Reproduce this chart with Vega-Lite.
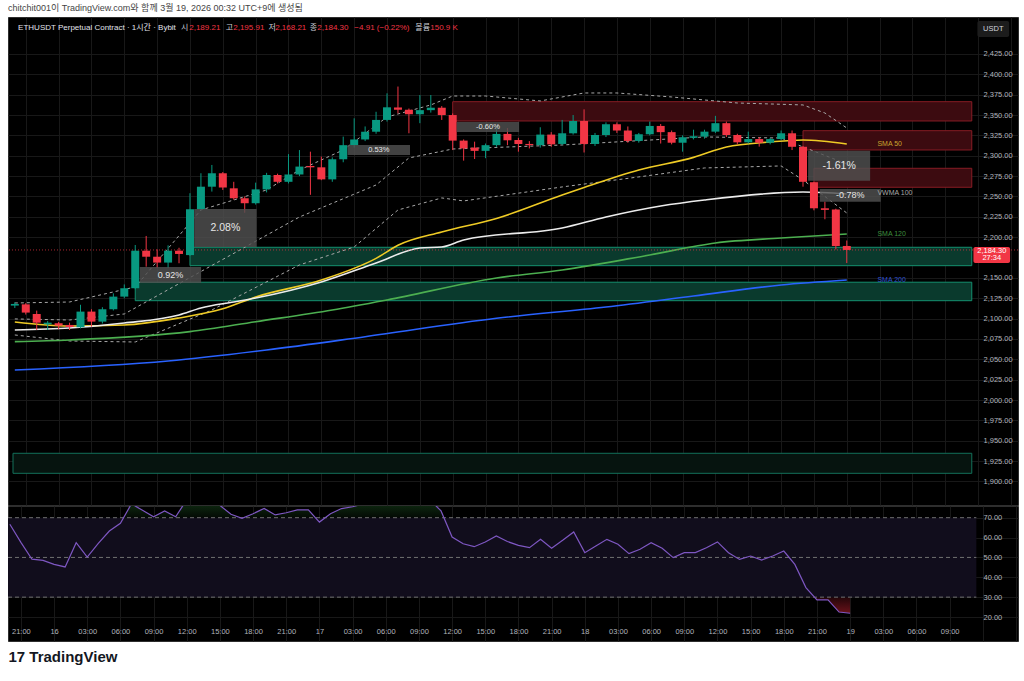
{
  "$schema": "https://vega.github.io/schema/vega-lite/v6.json",
  "background": "#ffffff",
  "padding": {"left": 7, "right": 7, "top": 3, "bottom": 8},
  "title": {"text": "chitchit001이 TradingView.com와 함께 3월 19, 2026 00:32 UTC+9에 생성됨", "anchor": "start", "frame": "group", "fontSize": 9, "fontWeight": "normal", "color": "#444444", "offset": 4},
  "config": {
    "font": "'Liberation Sans', 'Noto Sans CJK KR', sans-serif",
    "view": {"fill": "#000000", "stroke": "#2e2e2e", "strokeWidth": 1}
  },
  "spacing": -1,
  "datasets": {
    "bars": [
      {"t": "2026-03-15T20:00", "o": 2116, "hi": 2120, "lo": 2113, "c": 2118, "rsi": 66.7},
      {"t": "2026-03-15T21:00", "o": 2117.5, "hi": 2119, "lo": 2105, "c": 2107.4, "rsi": 57.6},
      {"t": "2026-03-15T22:00", "o": 2105.7, "hi": 2109.8, "lo": 2086, "c": 2095, "rsi": 49.1},
      {"t": "2026-03-15T23:00", "o": 2093, "hi": 2097, "lo": 2086, "c": 2095, "rsi": 48.5},
      {"t": "2026-03-16T00:00", "o": 2094.3, "hi": 2096, "lo": 2087, "c": 2091.4, "rsi": 46.5},
      {"t": "2026-03-16T01:00", "o": 2092.2, "hi": 2095, "lo": 2086, "c": 2089.7, "rsi": 45.2},
      {"t": "2026-03-16T02:00", "o": 2089.4, "hi": 2117, "lo": 2088, "c": 2108.6, "rsi": 57.4},
      {"t": "2026-03-16T03:00", "o": 2108.6, "hi": 2111.5, "lo": 2090, "c": 2096.3, "rsi": 50.2},
      {"t": "2026-03-16T04:00", "o": 2096.3, "hi": 2114, "lo": 2094, "c": 2111.5, "rsi": 57.1},
      {"t": "2026-03-16T05:00", "o": 2111.5, "hi": 2131, "lo": 2110, "c": 2127, "rsi": 63.3},
      {"t": "2026-03-16T06:00", "o": 2127, "hi": 2142, "lo": 2125, "c": 2137.3, "rsi": 67.2},
      {"t": "2026-03-16T07:00", "o": 2137.3, "hi": 2190.4, "lo": 2136, "c": 2183.4, "rsi": 77},
      {"t": "2026-03-16T08:00", "o": 2183.4, "hi": 2201.5, "lo": 2163.8, "c": 2176, "rsi": 73.7},
      {"t": "2026-03-16T09:00", "o": 2176, "hi": 2185, "lo": 2162, "c": 2168.8, "rsi": 70.5},
      {"t": "2026-03-16T10:00", "o": 2168.8, "hi": 2190, "lo": 2162, "c": 2183.4, "rsi": 73.4},
      {"t": "2026-03-16T11:00", "o": 2183.4, "hi": 2187, "lo": 2168, "c": 2179.4, "rsi": 70.5},
      {"t": "2026-03-16T12:00", "o": 2178, "hi": 2254, "lo": 2177, "c": 2234.3, "rsi": 79},
      {"t": "2026-03-16T13:00", "o": 2234.3, "hi": 2278.5, "lo": 2233, "c": 2262, "rsi": 82},
      {"t": "2026-03-16T14:00", "o": 2262, "hi": 2288.7, "lo": 2256, "c": 2278.5, "rsi": 80},
      {"t": "2026-03-16T15:00", "o": 2278.5, "hi": 2280, "lo": 2258, "c": 2261, "rsi": 76.2},
      {"t": "2026-03-16T16:00", "o": 2260, "hi": 2268, "lo": 2246, "c": 2247.8, "rsi": 71.7},
      {"t": "2026-03-16T17:00", "o": 2247.8, "hi": 2250, "lo": 2230, "c": 2241.7, "rsi": 69.7},
      {"t": "2026-03-16T18:00", "o": 2241.7, "hi": 2267, "lo": 2240, "c": 2258.7, "rsi": 72},
      {"t": "2026-03-16T19:00", "o": 2258.7, "hi": 2279, "lo": 2255, "c": 2276.4, "rsi": 74.7},
      {"t": "2026-03-16T20:00", "o": 2276.4, "hi": 2278, "lo": 2266, "c": 2268, "rsi": 71.4},
      {"t": "2026-03-16T21:00", "o": 2268, "hi": 2302, "lo": 2266, "c": 2277, "rsi": 72.5},
      {"t": "2026-03-16T22:00", "o": 2277, "hi": 2307, "lo": 2275, "c": 2286.7, "rsi": 73.9},
      {"t": "2026-03-16T23:00", "o": 2287.4, "hi": 2305, "lo": 2252, "c": 2285.8, "rsi": 73.9},
      {"t": "2026-03-17T00:00", "o": 2285.8, "hi": 2299, "lo": 2270, "c": 2271, "rsi": 67.8},
      {"t": "2026-03-17T01:00", "o": 2271, "hi": 2298, "lo": 2268, "c": 2295.7, "rsi": 72},
      {"t": "2026-03-17T02:00", "o": 2295.7, "hi": 2323.5, "lo": 2292, "c": 2313, "rsi": 74.6},
      {"t": "2026-03-17T03:00", "o": 2313, "hi": 2346, "lo": 2310, "c": 2320, "rsi": 75.5},
      {"t": "2026-03-17T04:00", "o": 2320, "hi": 2336, "lo": 2318, "c": 2329.5, "rsi": 77},
      {"t": "2026-03-17T05:00", "o": 2329.5, "hi": 2354, "lo": 2327, "c": 2344, "rsi": 80},
      {"t": "2026-03-17T06:00", "o": 2344, "hi": 2376.7, "lo": 2342, "c": 2359.5, "rsi": 83},
      {"t": "2026-03-17T07:00", "o": 2359.3, "hi": 2385, "lo": 2352, "c": 2356.5, "rsi": 81},
      {"t": "2026-03-17T08:00", "o": 2356.5, "hi": 2358, "lo": 2327.6, "c": 2351, "rsi": 78},
      {"t": "2026-03-17T09:00", "o": 2351, "hi": 2374.6, "lo": 2340, "c": 2356, "rsi": 79},
      {"t": "2026-03-17T10:00", "o": 2356, "hi": 2374.6, "lo": 2353, "c": 2359, "rsi": 79},
      {"t": "2026-03-17T11:00", "o": 2359, "hi": 2361, "lo": 2344, "c": 2350, "rsi": 73.4},
      {"t": "2026-03-17T12:00", "o": 2350, "hi": 2352, "lo": 2307, "c": 2318.6, "rsi": 60.3},
      {"t": "2026-03-17T13:00", "o": 2318.6, "hi": 2320, "lo": 2294, "c": 2309, "rsi": 56.9},
      {"t": "2026-03-17T14:00", "o": 2310, "hi": 2317.3, "lo": 2296, "c": 2306, "rsi": 55.4},
      {"t": "2026-03-17T15:00", "o": 2306, "hi": 2315, "lo": 2297, "c": 2313, "rsi": 57.8},
      {"t": "2026-03-17T16:00", "o": 2313, "hi": 2334, "lo": 2311, "c": 2326.8, "rsi": 60.8},
      {"t": "2026-03-17T17:00", "o": 2326.8, "hi": 2334, "lo": 2313, "c": 2319, "rsi": 58},
      {"t": "2026-03-17T18:00", "o": 2319.4, "hi": 2322, "lo": 2305, "c": 2314.5, "rsi": 56.1},
      {"t": "2026-03-17T19:00", "o": 2314.5, "hi": 2318, "lo": 2309, "c": 2313, "rsi": 54.9},
      {"t": "2026-03-17T20:00", "o": 2313, "hi": 2335, "lo": 2310, "c": 2326, "rsi": 59.1},
      {"t": "2026-03-17T21:00", "o": 2326, "hi": 2329, "lo": 2311, "c": 2314, "rsi": 54.6},
      {"t": "2026-03-17T22:00", "o": 2314.5, "hi": 2344, "lo": 2313, "c": 2327.6, "rsi": 58.6},
      {"t": "2026-03-17T23:00", "o": 2327.6, "hi": 2350, "lo": 2326, "c": 2342.7, "rsi": 62.8},
      {"t": "2026-03-18T00:00", "o": 2342.7, "hi": 2357, "lo": 2304, "c": 2314.5, "rsi": 52.4},
      {"t": "2026-03-18T01:00", "o": 2314.5, "hi": 2328, "lo": 2312, "c": 2325.5, "rsi": 55.7},
      {"t": "2026-03-18T02:00", "o": 2325.5, "hi": 2341, "lo": 2323, "c": 2338.7, "rsi": 59.1},
      {"t": "2026-03-18T03:00", "o": 2338.7, "hi": 2341, "lo": 2328, "c": 2331, "rsi": 56.6},
      {"t": "2026-03-18T04:00", "o": 2331, "hi": 2336, "lo": 2316, "c": 2318.2, "rsi": 51.9},
      {"t": "2026-03-18T05:00", "o": 2318.2, "hi": 2328, "lo": 2316, "c": 2326.4, "rsi": 54.1},
      {"t": "2026-03-18T06:00", "o": 2326.4, "hi": 2342, "lo": 2325, "c": 2336.6, "rsi": 57.4},
      {"t": "2026-03-18T07:00", "o": 2336.6, "hi": 2339, "lo": 2315, "c": 2329, "rsi": 54.6},
      {"t": "2026-03-18T08:00", "o": 2329, "hi": 2331, "lo": 2314, "c": 2316, "rsi": 49.9},
      {"t": "2026-03-18T09:00", "o": 2316, "hi": 2325, "lo": 2305, "c": 2322.7, "rsi": 52.4},
      {"t": "2026-03-18T10:00", "o": 2322, "hi": 2332, "lo": 2320, "c": 2324, "rsi": 52.4},
      {"t": "2026-03-18T11:00", "o": 2323.5, "hi": 2332, "lo": 2321, "c": 2329.6, "rsi": 54.9},
      {"t": "2026-03-18T12:00", "o": 2329.6, "hi": 2349, "lo": 2328, "c": 2340, "rsi": 57.8},
      {"t": "2026-03-18T13:00", "o": 2340, "hi": 2342, "lo": 2323, "c": 2325.5, "rsi": 52.4},
      {"t": "2026-03-18T14:00", "o": 2325.5, "hi": 2327, "lo": 2314, "c": 2316.5, "rsi": 49},
      {"t": "2026-03-18T15:00", "o": 2316.5, "hi": 2329.6, "lo": 2315, "c": 2320.5, "rsi": 50.7},
      {"t": "2026-03-18T16:00", "o": 2320.5, "hi": 2323, "lo": 2311.2, "c": 2316, "rsi": 48.7},
      {"t": "2026-03-18T17:00", "o": 2316, "hi": 2322, "lo": 2314, "c": 2320.5, "rsi": 50.7},
      {"t": "2026-03-18T18:00", "o": 2320.5, "hi": 2331, "lo": 2319, "c": 2327.6, "rsi": 53.2},
      {"t": "2026-03-18T19:00", "o": 2327.6, "hi": 2331, "lo": 2307, "c": 2311, "rsi": 46.5},
      {"t": "2026-03-18T20:00", "o": 2311, "hi": 2312, "lo": 2262, "c": 2268, "rsi": 34.8},
      {"t": "2026-03-18T21:00", "o": 2267.5, "hi": 2268, "lo": 2233, "c": 2235.5, "rsi": 28.6},
      {"t": "2026-03-18T22:00", "o": 2235.5, "hi": 2243.7, "lo": 2222, "c": 2233.5, "rsi": 28.6},
      {"t": "2026-03-18T23:00", "o": 2234, "hi": 2235, "lo": 2185, "c": 2189.2, "rsi": 22.5},
      {"t": "2026-03-19T00:00", "o": 2189.21, "hi": 2195.91, "lo": 2168.21, "c": 2184.3, "rsi": 21.9}
    ],
    "mas": [
      {"t": "2026-03-15T20:00", "ma": "SMA 50", "v": 2095.9},
      {"t": "2026-03-16T01:00", "ma": "SMA 50", "v": 2091},
      {"t": "2026-03-16T06:00", "ma": "SMA 50", "v": 2092.2},
      {"t": "2026-03-16T11:00", "ma": "SMA 50", "v": 2100.8},
      {"t": "2026-03-16T15:00", "ma": "SMA 50", "v": 2112},
      {"t": "2026-03-16T18:00", "ma": "SMA 50", "v": 2126.6},
      {"t": "2026-03-17T00:00", "ma": "SMA 50", "v": 2147.4},
      {"t": "2026-03-17T05:00", "ma": "SMA 50", "v": 2174},
      {"t": "2026-03-17T07:00", "ma": "SMA 50", "v": 2190},
      {"t": "2026-03-17T11:00", "ma": "SMA 50", "v": 2206.4},
      {"t": "2026-03-17T16:00", "ma": "SMA 50", "v": 2223},
      {"t": "2026-03-17T22:00", "ma": "SMA 50", "v": 2251.8},
      {"t": "2026-03-18T00:00", "ma": "SMA 50", "v": 2261},
      {"t": "2026-03-18T05:00", "ma": "SMA 50", "v": 2282.5},
      {"t": "2026-03-18T10:00", "ma": "SMA 50", "v": 2298},
      {"t": "2026-03-18T13:00", "ma": "SMA 50", "v": 2310.8},
      {"t": "2026-03-18T17:00", "ma": "SMA 50", "v": 2316.9},
      {"t": "2026-03-18T20:00", "ma": "SMA 50", "v": 2319.4},
      {"t": "2026-03-19T00:00", "ma": "SMA 50", "v": 2314.5},
      {"t": "2026-03-15T20:00", "ma": "VWMA 100", "v": 2086},
      {"t": "2026-03-16T01:00", "ma": "VWMA 100", "v": 2088.5},
      {"t": "2026-03-16T06:00", "ma": "VWMA 100", "v": 2094.6},
      {"t": "2026-03-16T11:00", "ma": "VWMA 100", "v": 2104.5},
      {"t": "2026-03-16T13:00", "ma": "VWMA 100", "v": 2113.1},
      {"t": "2026-03-16T16:00", "ma": "VWMA 100", "v": 2120.4},
      {"t": "2026-03-16T18:00", "ma": "VWMA 100", "v": 2125.3},
      {"t": "2026-03-17T00:00", "ma": "VWMA 100", "v": 2145},
      {"t": "2026-03-17T05:00", "ma": "VWMA 100", "v": 2168.3},
      {"t": "2026-03-17T09:00", "ma": "VWMA 100", "v": 2186.7},
      {"t": "2026-03-17T11:00", "ma": "VWMA 100", "v": 2188},
      {"t": "2026-03-17T13:00", "ma": "VWMA 100", "v": 2196.6},
      {"t": "2026-03-17T22:00", "ma": "VWMA 100", "v": 2211.3},
      {"t": "2026-03-18T02:00", "ma": "VWMA 100", "v": 2224.8},
      {"t": "2026-03-18T07:00", "ma": "VWMA 100", "v": 2238.3},
      {"t": "2026-03-18T11:00", "ma": "VWMA 100", "v": 2245.7},
      {"t": "2026-03-18T20:00", "ma": "VWMA 100", "v": 2255.5},
      {"t": "2026-03-19T00:00", "ma": "VWMA 100", "v": 2253.1},
      {"t": "2026-03-15T20:00", "ma": "SMA 120", "v": 2071.7},
      {"t": "2026-03-16T01:00", "ma": "SMA 120", "v": 2073.8},
      {"t": "2026-03-16T12:00", "ma": "SMA 120", "v": 2084},
      {"t": "2026-03-16T18:00", "ma": "SMA 120", "v": 2096.2},
      {"t": "2026-03-17T01:00", "ma": "SMA 120", "v": 2110.6},
      {"t": "2026-03-17T06:00", "ma": "SMA 120", "v": 2122.9},
      {"t": "2026-03-17T16:00", "ma": "SMA 120", "v": 2149.9},
      {"t": "2026-03-17T22:00", "ma": "SMA 120", "v": 2159.7},
      {"t": "2026-03-18T06:00", "ma": "SMA 120", "v": 2178.2},
      {"t": "2026-03-18T12:00", "ma": "SMA 120", "v": 2192.9},
      {"t": "2026-03-18T18:00", "ma": "SMA 120", "v": 2199},
      {"t": "2026-03-19T00:00", "ma": "SMA 120", "v": 2203.9},
      {"t": "2026-03-15T20:00", "ma": "SMA 200", "v": 2036.9},
      {"t": "2026-03-16T10:00", "ma": "SMA 200", "v": 2048},
      {"t": "2026-03-16T19:00", "ma": "SMA 200", "v": 2061.5},
      {"t": "2026-03-17T04:00", "ma": "SMA 200", "v": 2077.8},
      {"t": "2026-03-17T16:00", "ma": "SMA 200", "v": 2100.4},
      {"t": "2026-03-18T02:00", "ma": "SMA 200", "v": 2114.3},
      {"t": "2026-03-18T10:00", "ma": "SMA 200", "v": 2127.8},
      {"t": "2026-03-18T18:00", "ma": "SMA 200", "v": 2141.3},
      {"t": "2026-03-19T00:00", "ma": "SMA 200", "v": 2147.4}
    ],
    "bands": [
      {"t": "2026-03-15T20:00", "band": "upper", "v": 2119.2},
      {"t": "2026-03-16T01:00", "band": "upper", "v": 2120.4},
      {"t": "2026-03-16T07:00", "band": "upper", "v": 2138.9},
      {"t": "2026-03-16T13:00", "band": "upper", "v": 2233.4},
      {"t": "2026-03-16T19:00", "band": "upper", "v": 2258},
      {"t": "2026-03-16T22:00", "band": "upper", "v": 2282.5},
      {"t": "2026-03-17T02:00", "band": "upper", "v": 2307.1},
      {"t": "2026-03-17T06:00", "band": "upper", "v": 2347.6},
      {"t": "2026-03-17T10:00", "band": "upper", "v": 2362.4},
      {"t": "2026-03-17T12:00", "band": "upper", "v": 2373.4},
      {"t": "2026-03-17T15:00", "band": "upper", "v": 2373.4},
      {"t": "2026-03-17T20:00", "band": "upper", "v": 2367.3},
      {"t": "2026-03-18T00:00", "band": "upper", "v": 2377.1},
      {"t": "2026-03-18T03:00", "band": "upper", "v": 2377.1},
      {"t": "2026-03-18T08:00", "band": "upper", "v": 2372.2},
      {"t": "2026-03-18T14:00", "band": "upper", "v": 2364.8},
      {"t": "2026-03-18T20:00", "band": "upper", "v": 2362.4},
      {"t": "2026-03-18T22:00", "band": "upper", "v": 2352.5},
      {"t": "2026-03-19T00:00", "band": "upper", "v": 2334.1},
      {"t": "2026-03-15T20:00", "band": "basis", "v": 2099.6},
      {"t": "2026-03-16T01:00", "band": "basis", "v": 2098.3},
      {"t": "2026-03-16T06:00", "band": "basis", "v": 2105.7},
      {"t": "2026-03-16T22:00", "band": "basis", "v": 2224.8},
      {"t": "2026-03-17T05:00", "band": "basis", "v": 2264.1},
      {"t": "2026-03-17T08:00", "band": "basis", "v": 2297.3},
      {"t": "2026-03-17T12:00", "band": "basis", "v": 2308.3},
      {"t": "2026-03-17T22:00", "band": "basis", "v": 2313.2},
      {"t": "2026-03-18T11:00", "band": "basis", "v": 2323.1},
      {"t": "2026-03-18T18:00", "band": "basis", "v": 2321.8},
      {"t": "2026-03-18T20:00", "band": "basis", "v": 2310.8},
      {"t": "2026-03-19T00:00", "band": "basis", "v": 2290},
      {"t": "2026-03-15T20:00", "band": "lower", "v": 2079.9},
      {"t": "2026-03-16T01:00", "band": "lower", "v": 2072.5},
      {"t": "2026-03-16T07:00", "band": "lower", "v": 2071.3},
      {"t": "2026-03-16T14:00", "band": "lower", "v": 2110.6},
      {"t": "2026-03-16T22:00", "band": "lower", "v": 2165.9},
      {"t": "2026-03-17T03:00", "band": "lower", "v": 2188},
      {"t": "2026-03-17T07:00", "band": "lower", "v": 2233.4},
      {"t": "2026-03-17T11:00", "band": "lower", "v": 2248.2},
      {"t": "2026-03-17T13:00", "band": "lower", "v": 2244.5},
      {"t": "2026-03-17T22:00", "band": "lower", "v": 2261.7},
      {"t": "2026-03-18T05:00", "band": "lower", "v": 2274},
      {"t": "2026-03-18T11:00", "band": "lower", "v": 2285},
      {"t": "2026-03-18T18:00", "band": "lower", "v": 2287.5},
      {"t": "2026-03-18T20:00", "band": "lower", "v": 2270.3},
      {"t": "2026-03-19T00:00", "band": "lower", "v": 2229.7}
    ],
    "zones": [
      {"t1": "2026-03-17T12:00", "t2": "2026-03-19T11:25", "p1": 2342.7, "p2": 2366.4, "zone": "supply"},
      {"t1": "2026-03-18T20:00", "t2": "2026-03-19T11:25", "p1": 2307.1, "p2": 2330.8, "zone": "supply"},
      {"t1": "2026-03-18T21:00", "t2": "2026-03-19T11:25", "p1": 2261.3, "p2": 2284.6, "zone": "supply"},
      {"t1": "2026-03-16T12:00", "t2": "2026-03-19T11:25", "p1": 2165, "p2": 2187.6, "zone": "demand"},
      {"t1": "2026-03-16T07:00", "t2": "2026-03-19T11:25", "p1": 2122, "p2": 2144.7, "zone": "demand"},
      {"t1": "2026-03-15T19:50", "t2": "2026-03-19T11:25", "p1": 1910, "p2": 1934.6, "zone": "far"}
    ],
    "measures": [
      {"t1": "2026-03-16T07:25", "t2": "2026-03-16T13:01", "p1": 2143.8, "p2": 2163.4, "tm": "2026-03-16T10:13", "pm": 2153.6, "label": "0.92%", "kind": "medium"},
      {"t1": "2026-03-16T12:23", "t2": "2026-03-16T18:05", "p1": 2188, "p2": 2234.6, "tm": "2026-03-16T15:14", "pm": 2211.3, "label": "2.08%", "kind": "large"},
      {"t1": "2026-03-17T02:24", "t2": "2026-03-17T08:06", "p1": 2301, "p2": 2313.2, "tm": "2026-03-17T05:15", "pm": 2307.1, "label": "0.53%", "kind": "small"},
      {"t1": "2026-03-17T12:22", "t2": "2026-03-17T18:04", "p1": 2329.2, "p2": 2341.5, "tm": "2026-03-17T15:13", "pm": 2335.4, "label": "-0.60%", "kind": "small"},
      {"t1": "2026-03-18T20:28", "t2": "2026-03-19T02:08", "p1": 2269.4, "p2": 2306.2, "tm": "2026-03-18T23:18", "pm": 2287.8, "label": "-1.61%", "kind": "large"},
      {"t1": "2026-03-18T21:32", "t2": "2026-03-19T03:06", "p1": 2243.6, "p2": 2259.2, "tm": "2026-03-19T00:19", "pm": 2251.4, "label": "-0.78%", "kind": "medium"}
    ],
    "malabels": [
      {"t": "2026-03-19T02:48", "p": 2314.5, "ma": "SMA 50"},
      {"t": "2026-03-19T02:48", "p": 2254.3, "ma": "VWMA 100"},
      {"t": "2026-03-19T02:48", "p": 2204, "ma": "SMA 120"},
      {"t": "2026-03-19T02:48", "p": 2147.5, "ma": "SMA 200"}
    ],
    "header": [
      {"t": "2026-03-15T20:18", "p": 2456.9, "text": "ETHUSDT Perpetual Contract · 1시간 · Bybit", "part": "title"},
      {"t": "2026-03-16T11:11", "p": 2456.9, "text": "시", "part": "label"},
      {"t": "2026-03-16T11:56", "p": 2456.9, "text": "2,189.21", "part": "value"},
      {"t": "2026-03-16T15:16", "p": 2456.9, "text": "고", "part": "label"},
      {"t": "2026-03-16T15:57", "p": 2456.9, "text": "2,195.91", "part": "value"},
      {"t": "2026-03-16T19:11", "p": 2456.9, "text": "저", "part": "label"},
      {"t": "2026-03-16T19:47", "p": 2456.9, "text": "2,168.21", "part": "value"},
      {"t": "2026-03-16T22:57", "p": 2456.9, "text": "종", "part": "label"},
      {"t": "2026-03-16T23:38", "p": 2456.9, "text": "2,184.30", "part": "value"},
      {"t": "2026-03-17T03:01", "p": 2456.9, "text": "−4.91 (−0.22%)", "part": "value"},
      {"t": "2026-03-17T08:35", "p": 2456.9, "text": "볼륨", "part": "label"},
      {"t": "2026-03-17T09:57", "p": 2456.9, "text": "150.9 K", "part": "value"}
    ],
    "tags": [
      {"t1": "2026-03-19T11:34", "t2": "2026-03-19T14:55", "p1": 2168.3, "p2": 2188, "kind": "price"},
      {"t1": "2026-03-19T11:56", "t2": "2026-03-19T14:50", "p1": 2445.9, "p2": 2465.5, "kind": "unit"}
    ],
    "tagtext": [
      {"t": "2026-03-19T13:15", "p": 2183.4, "text": "2,184.30", "kind": "price"},
      {"t": "2026-03-19T13:15", "p": 2174.1, "text": "27:34", "kind": "price"},
      {"t": "2026-03-19T13:23", "p": 2455.7, "text": "USDT", "kind": "unit"}
    ],
    "rsilevels": [
      {"v": 70, "t1": "2026-03-15T19:50", "t2": "2026-03-19T11:25"},
      {"v": 50, "t1": "2026-03-15T19:50", "t2": "2026-03-19T11:25"},
      {"v": 30, "t1": "2026-03-15T19:50", "t2": "2026-03-19T11:25"}
    ],
    "rsiband": [
      {"lo": 30, "hi": 70, "t1": "2026-03-15T19:50", "t2": "2026-03-19T11:25"}
    ],
    "last": [{"price": 2184.3}]
  },
  "vconcat": [
    {
      "width": 1010,
      "height": 488,
      "resolve": {"scale": {"color": "independent", "fill": "independent", "stroke": "independent", "size": "independent"}, "axis": {"x": "independent", "y": "independent"}},
      "layer": [
        {
          "data": {"name": "zones"},
          "mark": {"type": "rect", "strokeWidth": 1},
          "encoding": {
            "x": {"field": "t1", "type": "temporal", "title": null, "scale": {"domain": [{"year": 2026, "month": 3, "date": 15, "hours": 19, "minutes": 50}, {"year": 2026, "month": 3, "date": 19, "hours": 15, "minutes": 11}], "nice": false},
              "axis": {"grid": true, "gridColor": "#181818", "labels": false, "ticks": false, "domain": false, "tickCount": 30}},
            "x2": {"field": "t2"},
            "y": {"field": "p1", "type": "quantitative", "title": null, "scale": {"domain": [1871.1, 2470.4], "nice": false, "zero": false},
              "axis": {"orient": "right", "offset": -42, "values": [1900, 1925, 1950, 1975, 2000, 2025, 2050, 2075, 2100, 2125, 2150, 2200, 2225, 2250, 2275, 2300, 2325, 2350, 2375, 2400, 2425], "format": ",.2f", "grid": true, "gridColor": "#181818", "ticks": false, "domain": false, "labelColor": "#b2b5be", "labelFontSize": 7.5, "labelPadding": 7, "labelAlign": "left", "labelOverlap": false}},
            "y2": {"field": "p2"},
            "fill": {"field": "zone", "type": "nominal", "scale": {"domain": ["supply", "demand", "far"], "range": ["#3c0b10", "#0a3a2d", "#06140f"]}, "legend": null},
            "stroke": {"field": "zone", "type": "nominal", "scale": {"domain": ["supply", "demand", "far"], "range": ["#871c24", "#14906f", "#13705a"]}, "legend": null}
          }
        },
        {
          "data": {"name": "bands"},
          "mark": {"type": "line", "strokeDash": [3, 3], "strokeWidth": 1, "color": "#a8a8a8", "clip": true},
          "encoding": {
            "x": {"field": "t", "type": "temporal", "axis": null},
            "y": {"field": "v", "type": "quantitative", "axis": null},
            "detail": {"field": "band"}
          }
        },
        {
          "data": {"name": "mas"},
          "mark": {"type": "line", "strokeWidth": 1.6, "interpolate": "monotone", "clip": true},
          "encoding": {
            "x": {"field": "t", "type": "temporal", "axis": null},
            "y": {"field": "v", "type": "quantitative", "axis": null},
            "color": {"field": "ma", "type": "nominal", "scale": {"domain": ["SMA 50", "VWMA 100", "SMA 120", "SMA 200"], "range": ["#efcb25", "#ececec", "#4caf50", "#2962ff"]}, "legend": null}
          }
        },
        {
          "data": {"name": "last"},
          "mark": {"type": "rule", "color": "#f23645", "strokeDash": [1, 2], "opacity": 0.7},
          "encoding": {"y": {"field": "price", "type": "quantitative", "axis": null}}
        },
        {
          "data": {"name": "bars"},
          "mark": {"type": "rule", "strokeWidth": 1},
          "encoding": {
            "x": {"field": "t", "type": "temporal", "axis": null},
            "y": {"field": "lo", "type": "quantitative", "axis": null},
            "y2": {"field": "hi"},
            "color": {"condition": {"test": "datum.c >= datum.o", "value": "#089981"}, "value": "#f23645"}
          }
        },
        {
          "data": {"name": "bars"},
          "mark": {"type": "bar", "width": 8},
          "encoding": {
            "x": {"field": "t", "type": "temporal", "axis": null},
            "y": {"field": "o", "type": "quantitative", "axis": null},
            "y2": {"field": "c"},
            "color": {"condition": {"test": "datum.c >= datum.o", "value": "#089981"}, "value": "#f23645"}
          }
        },
        {
          "data": {"name": "measures"},
          "mark": {"type": "rect", "color": "#505050", "opacity": 0.82},
          "encoding": {
            "x": {"field": "t1", "type": "temporal", "axis": null},
            "x2": {"field": "t2"},
            "y": {"field": "p1", "type": "quantitative", "axis": null},
            "y2": {"field": "p2"}
          }
        },
        {
          "data": {"name": "measures"},
          "mark": {"type": "text", "color": "#e6e6e6", "align": "center", "baseline": "middle"},
          "encoding": {
            "x": {"field": "tm", "type": "temporal", "axis": null},
            "y": {"field": "pm", "type": "quantitative", "axis": null},
            "text": {"field": "label"},
            "size": {"field": "kind", "type": "ordinal", "scale": {"domain": ["small", "medium", "large"], "range": [7.5, 10.5, 20]}, "legend": null}
          }
        },
        {
          "data": {"name": "malabels"},
          "mark": {"type": "text", "align": "left", "baseline": "middle", "fontSize": 7},
          "encoding": {
            "x": {"field": "t", "type": "temporal", "axis": null},
            "y": {"field": "p", "type": "quantitative", "axis": null},
            "text": {"field": "ma"},
            "color": {"field": "ma", "type": "nominal", "scale": {"domain": ["SMA 50", "VWMA 100", "SMA 120", "SMA 200"], "range": ["#c9a52e", "#a8a8a8", "#3e8e3e", "#2f52d0"]}, "legend": null}
          }
        },
        {
          "data": {"name": "header"},
          "mark": {"type": "text", "align": "left", "baseline": "middle", "fontSize": 8},
          "encoding": {
            "x": {"field": "t", "type": "temporal", "axis": null},
            "y": {"field": "p", "type": "quantitative", "axis": null},
            "text": {"field": "text"},
            "color": {"field": "part", "type": "nominal", "scale": {"domain": ["title", "label", "value"], "range": ["#e0e3eb", "#c8cbd3", "#f23645"]}, "legend": null}
          }
        },
        {
          "data": {"name": "tags"},
          "mark": {"type": "rect", "cornerRadius": 2},
          "encoding": {
            "x": {"field": "t1", "type": "temporal", "axis": null},
            "x2": {"field": "t2"},
            "y": {"field": "p1", "type": "quantitative", "axis": null},
            "y2": {"field": "p2"},
            "fill": {"field": "kind", "type": "nominal", "scale": {"domain": ["price", "unit"], "range": ["#f23645", "#1c1c1c"]}, "legend": null}
          }
        },
        {
          "data": {"name": "tagtext"},
          "mark": {"type": "text", "align": "center", "baseline": "middle", "fontSize": 7.5},
          "encoding": {
            "x": {"field": "t", "type": "temporal", "axis": null},
            "y": {"field": "p", "type": "quantitative", "axis": null},
            "text": {"field": "text"},
            "color": {"field": "kind", "type": "nominal", "scale": {"domain": ["price", "unit"], "range": ["#ffffff", "#d1d4dc"]}, "legend": null}
          }
        }
      ]
    },
    {
      "width": 1010,
      "height": 135,
      "resolve": {"axis": {"x": "independent", "y": "independent"}},
      "layer": [
        {
          "data": {"name": "bars"},
          "transform": [{"filter": {"field": "t", "gte": {"year": 2026, "month": 3, "date": 18, "hours": 19}}}],
          "mark": {"type": "area", "clip": true, "color": {"gradient": "linear", "x1": 0, "y1": 1, "x2": 0, "y2": 0, "stops": [{"offset": 0, "color": "#6a121a"}, {"offset": 0.35, "color": "#1e0508"}, {"offset": 1, "color": "#000000"}]}},
          "encoding": {
            "x": {"field": "t", "type": "temporal", "title": "17 TradingView", "scale": {"domain": [{"year": 2026, "month": 3, "date": 15, "hours": 19, "minutes": 50}, {"year": 2026, "month": 3, "date": 19, "hours": 15, "minutes": 11}], "nice": false},
              "axis": {"orient": "bottom", "offset": -17, "grid": true, "gridColor": "#181818", "ticks": false, "domain": false, "labelColor": "#b2b5be", "labelFontSize": 7.5, "labelPadding": 3, "labelFlush": false, "labelOverlap": false, "tickCount": 30,
                "labelExpr": "datum.value > datetime(2026, 2, 19, 10, 0) ? '' : (hours(datum.value) == 0 ? '' + date(datum.value) : timeFormat(datum.value, '%H:%M'))",
                "titleAnchor": "start", "titleFontSize": 15, "titleFontWeight": "bold", "titleColor": "#131722", "titlePadding": 15}},
            "y": {"field": "rsi", "type": "quantitative", "title": null, "scale": {"domain": [7.92, 75.89], "nice": false, "zero": false},
              "axis": {"orient": "right", "offset": -42, "values": [20, 30, 40, 50, 60, 70], "format": ".2f", "grid": true, "gridColor": "#181818", "ticks": false, "domain": false, "labelColor": "#b2b5be", "labelFontSize": 7.5, "labelPadding": 7, "labelAlign": "left", "labelOverlap": false}},
            "y2": {"datum": 30}
          }
        },
        {
          "data": {"name": "bars"},
          "transform": [{"filter": {"field": "t", "lte": {"year": 2026, "month": 3, "date": 17, "hours": 16}}}],
          "mark": {"type": "area", "clip": true, "color": {"gradient": "linear", "x1": 0, "y1": 1, "x2": 0, "y2": 0, "stops": [{"offset": 0, "color": "#000000"}, {"offset": 0.6, "color": "#000000"}, {"offset": 1, "color": "#18451c"}]}},
          "encoding": {
            "x": {"field": "t", "type": "temporal", "axis": null},
            "y": {"field": "rsi", "type": "quantitative", "axis": null},
            "y2": {"datum": 70}
          }
        },
        {
          "data": {"name": "rsiband"},
          "mark": {"type": "rect", "color": "#110d1c"},
          "encoding": {
            "x": {"field": "t1", "type": "temporal", "axis": null},
            "x2": {"field": "t2"},
            "y": {"field": "lo", "type": "quantitative", "axis": null},
            "y2": {"field": "hi"}
          }
        },
        {
          "data": {"name": "rsilevels"},
          "mark": {"type": "rule", "color": "#707070", "strokeDash": [4, 3], "strokeWidth": 1},
          "encoding": {
            "x": {"field": "t1", "type": "temporal", "axis": null},
            "x2": {"field": "t2"},
            "y": {"field": "v", "type": "quantitative", "axis": null}
          }
        },
        {
          "data": {"name": "bars"},
          "mark": {"type": "line", "color": "#7e57c2", "strokeWidth": 1.2, "clip": true},
          "encoding": {
            "x": {"field": "t", "type": "temporal", "axis": null},
            "y": {"field": "rsi", "type": "quantitative", "axis": null}
          }
        }
      ]
    }
  ]
}
